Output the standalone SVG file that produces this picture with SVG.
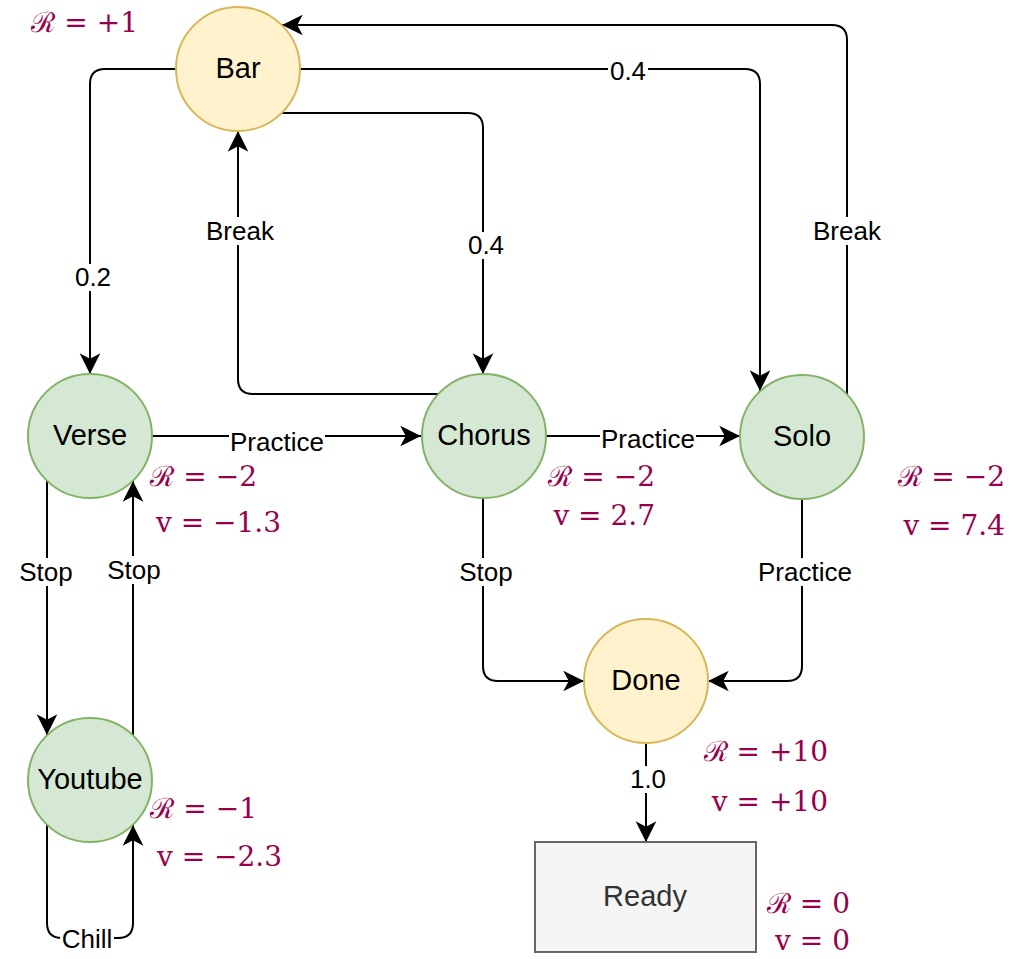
<svg xmlns="http://www.w3.org/2000/svg" width="1013" height="959" viewBox="0 0 1013 959">
<style>
.green{fill:#d5e8d4;stroke:#82b366;stroke-width:2}
.yellow{fill:#fff2cc;stroke:#d6b656;stroke-width:2}
.gray{fill:#f5f5f5;stroke:#666666;stroke-width:2}
.nt{font-family:"Liberation Sans",Arial,sans-serif;font-size:29px;fill:#000;text-anchor:middle;dominant-baseline:central}
.edge{fill:none;stroke:#000;stroke-width:2;marker-end:url(#arr)}
.lbg{fill:#fff}
.lt{font-family:"Liberation Sans",Arial,sans-serif;font-size:26px;fill:#000;text-anchor:middle;dominant-baseline:central}
.m{font-family:"DejaVu Serif","Liberation Serif",serif;font-size:28px;fill:#99004C;text-anchor:end}
</style>
<defs>
<marker id="arr" markerUnits="userSpaceOnUse" markerWidth="24" markerHeight="24" viewBox="-20 -11 22 22" refX="0" refY="0" orient="auto">
<path d="M0,0 L-19,-9.5 L-14,0 L-19,9.5 Z" fill="#000"/>
</marker>
</defs>
<rect width="1013" height="959" fill="#fff"/>
<g id="connectors">
<path class="edge" d="M176,69 H105 Q90,69 90,84 V374"/>
<path class="edge" d="M300,69 H745 Q760,69 760,84 V391"/>
<path class="edge" d="M282,113 H468 Q483,113 483,128 V374"/>
<path class="edge" d="M439,394 H253 Q238,394 238,379 V131"/>
<path class="edge" d="M847,394 V40 Q847,25 832,25 H282"/>
<path class="edge" d="M152,436 H421"/>
<path class="edge" d="M546,436 H740"/>
<path class="edge" d="M47,481 V735"/>
<path class="edge" d="M133,735 V481"/>
<path class="edge" d="M47,825 V923 Q47,938 62,938 H118 Q133,938 133,923 V825"/>
<path class="edge" d="M483,498 V666 Q483,681 498,681 H584"/>
<path class="edge" d="M802,499 V666 Q802,681 787,681 H708"/>
<path class="edge" d="M646,743 V842"/>
<g id="edge-labels">
<rect class="lbg" x="73" y="264" width="40" height="27"/><text class="lt" x="93" y="277">0.2</text>
<rect class="lbg" x="608" y="58" width="40" height="27"/><text class="lt" x="628" y="71">0.4</text>
<rect class="lbg" x="466" y="232" width="40" height="27"/><text class="lt" x="486" y="245">0.4</text>
<rect class="lbg" x="203" y="217" width="74" height="28"/><text class="lt" x="240" y="231">Break</text>
<rect class="lbg" x="810" y="217" width="74" height="28"/><text class="lt" x="847" y="231">Break</text>
<rect class="lbg" x="229" y="428" width="96" height="28"/><text class="lt" x="277" y="442">Practice</text>
<rect class="lbg" x="600" y="425" width="96" height="28"/><text class="lt" x="648" y="439">Practice</text>
<rect class="lbg" x="757" y="558" width="96" height="28"/><text class="lt" x="805" y="572">Practice</text>
<rect class="lbg" x="18" y="558" width="57" height="28"/><text class="lt" x="46" y="572">Stop</text>
<rect class="lbg" x="106" y="556" width="57" height="28"/><text class="lt" x="134" y="570">Stop</text>
<rect class="lbg" x="458" y="558" width="57" height="28"/><text class="lt" x="486" y="572">Stop</text>
<rect class="lbg" x="60" y="926" width="54" height="27"/><text class="lt" x="87" y="939">Chill</text>
<rect class="lbg" x="628" y="766" width="40" height="27"/><text class="lt" x="648" y="779">1.0</text>
</g>
</g>
<g id="node-bar"><circle class="yellow" cx="238" cy="69" r="62"/><text class="nt" x="238" y="68">Bar</text></g>
<g id="node-verse"><circle class="green" cx="90" cy="436" r="62"/><text class="nt" x="90" y="435">Verse</text></g>
<g id="node-chorus"><circle class="green" cx="484" cy="436" r="62"/><text class="nt" x="484" y="435">Chorus</text></g>
<g id="node-solo"><circle class="green" cx="802" cy="437" r="62"/><text class="nt" x="802" y="436">Solo</text></g>
<g id="node-youtube"><circle class="green" cx="90" cy="780" r="62"/><text class="nt" x="90" y="779">Youtube</text></g>
<g id="node-done"><circle class="yellow" cx="646" cy="681" r="62"/><text class="nt" x="646" y="680">Done</text></g>
<g id="node-ready"><rect class="gray" x="535" y="842" width="221" height="110"/><text class="nt" x="645" y="896" style="fill:#333333">Ready</text></g>
<g id="math-labels">
<text class="m" x="138" y="32">ℛ = +1</text>
<text class="m" x="257" y="486">ℛ = −2</text>
<text class="m" x="281" y="532">v = −1.3</text>
<text class="m" x="655" y="486">ℛ = −2</text>
<text class="m" x="655" y="525">v = 2.7</text>
<text class="m" x="1005" y="486">ℛ = −2</text>
<text class="m" x="1005" y="535">v = 7.4</text>
<text class="m" x="257" y="818">ℛ = −1</text>
<text class="m" x="282" y="866">v = −2.3</text>
<text class="m" x="828" y="761">ℛ = +10</text>
<text class="m" x="828" y="811">v = +10</text>
<text class="m" x="850" y="913">ℛ = 0</text>
<text class="m" x="850" y="950">v = 0</text>
</g>
</svg>
